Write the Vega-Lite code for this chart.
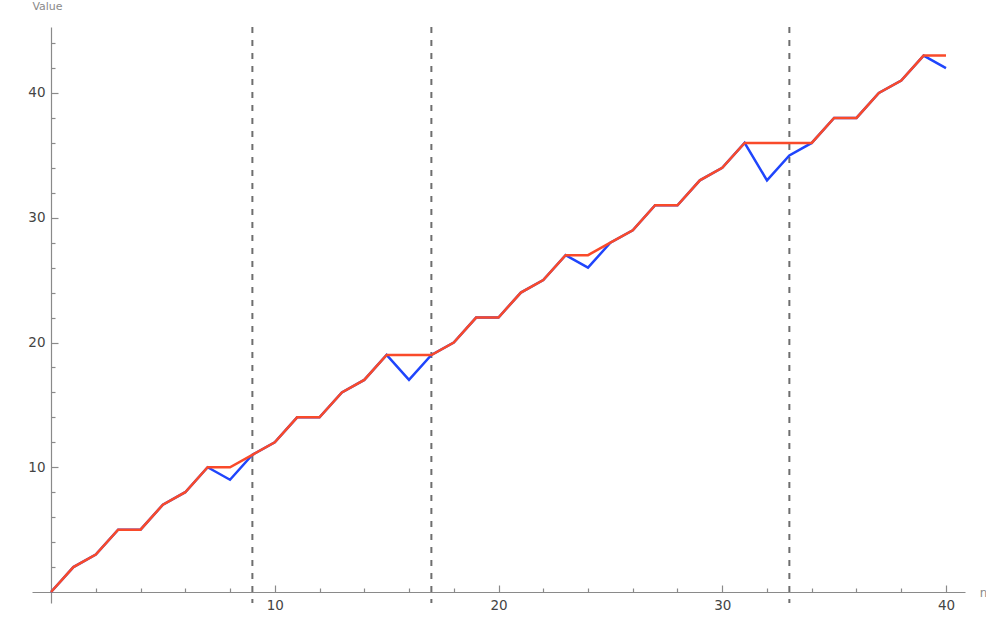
{
  "$schema": "https://vega.github.io/schema/vega-lite/v6.json",
  "autosize": {"type": "none"},
  "padding": {"left": 32, "top": 27, "right": 21, "bottom": 18},
  "width": 933,
  "height": 576,
  "background": "white",
  "config": {
    "view": {"stroke": null},
    "axis": {
      "grid": false,
      "domainColor": "#8a8a8a",
      "domainWidth": 1.2,
      "tickColor": "#8a8a8a",
      "tickWidth": 1.2,
      "labelOverlap": false,
      "labelFlush": false,
      "labelFont": "DejaVu Sans",
      "labelFontSize": 13.5,
      "labelColor": "#444444",
      "titleFont": "DejaVu Sans",
      "titleFontWeight": "normal",
      "titleColor": "#8a8a8a",
      "titleFontSize": 11
    }
  },
  "data": {
    "values": [
      {"n": 0, "seq": 0, "max": 0},
      {"n": 1, "seq": 2, "max": 2},
      {"n": 2, "seq": 3, "max": 3},
      {"n": 3, "seq": 5, "max": 5},
      {"n": 4, "seq": 5, "max": 5},
      {"n": 5, "seq": 7, "max": 7},
      {"n": 6, "seq": 8, "max": 8},
      {"n": 7, "seq": 10, "max": 10},
      {"n": 8, "seq": 9, "max": 10},
      {"n": 9, "seq": 11, "max": 11},
      {"n": 10, "seq": 12, "max": 12},
      {"n": 11, "seq": 14, "max": 14},
      {"n": 12, "seq": 14, "max": 14},
      {"n": 13, "seq": 16, "max": 16},
      {"n": 14, "seq": 17, "max": 17},
      {"n": 15, "seq": 19, "max": 19},
      {"n": 16, "seq": 17, "max": 19},
      {"n": 17, "seq": 19, "max": 19},
      {"n": 18, "seq": 20, "max": 20},
      {"n": 19, "seq": 22, "max": 22},
      {"n": 20, "seq": 22, "max": 22},
      {"n": 21, "seq": 24, "max": 24},
      {"n": 22, "seq": 25, "max": 25},
      {"n": 23, "seq": 27, "max": 27},
      {"n": 24, "seq": 26, "max": 27},
      {"n": 25, "seq": 28, "max": 28},
      {"n": 26, "seq": 29, "max": 29},
      {"n": 27, "seq": 31, "max": 31},
      {"n": 28, "seq": 31, "max": 31},
      {"n": 29, "seq": 33, "max": 33},
      {"n": 30, "seq": 34, "max": 34},
      {"n": 31, "seq": 36, "max": 36},
      {"n": 32, "seq": 33, "max": 36},
      {"n": 33, "seq": 35, "max": 36},
      {"n": 34, "seq": 36, "max": 36},
      {"n": 35, "seq": 38, "max": 38},
      {"n": 36, "seq": 38, "max": 38},
      {"n": 37, "seq": 40, "max": 40},
      {"n": 38, "seq": 41, "max": 41},
      {"n": 39, "seq": 43, "max": 43},
      {"n": 40, "seq": 42, "max": 43}
    ]
  },
  "layer": [
    {
      "data": {"values": [{"x": 9}, {"x": 17}, {"x": 33}]},
      "mark": {"type": "rule", "color": "#6e6e6e", "strokeWidth": 2, "strokeDash": [6, 7]},
      "encoding": {
        "x": {"field": "x", "type": "quantitative", "scale": {"domain": [-0.85, 40.85], "nice": false, "zero": false}}
      }
    },
    {
      "mark": {"type": "line", "color": "#1f45fc", "strokeWidth": 2.5, "strokeJoin": "miter"},
      "encoding": {
        "x": {
          "field": "n", "type": "quantitative",
          "scale": {"domain": [-0.85, 40.85], "nice": false, "zero": false},
          "axis": {
            "orient": "bottom",
            "offset": -11,
            "values": [2,4,6,8,10,12,14,16,18,20,22,24,26,28,30,32,34,36,38,40],
            "tickCount": 60,
            "format": "d",
            "labelExpr": "datum.value % 10 === 0 ? datum.label : ''",
            "tickSize": {"condition": {"test": "datum.value % 10 === 0", "value": -7}, "value": -4},
            "labelPadding": 13,
            "title": "n",
            "titleAngle": 0,
            "titleX": 951,
            "titleY": 0,
            "titleAlign": "center",
            "titleBaseline": "middle",
            "titleFontSize": 12
          }
        },
        "y": {
          "field": "seq", "type": "quantitative",
          "scale": {"domain": [-0.88, 45.29], "nice": false, "zero": false},
          "axis": {
            "orient": "left",
            "offset": -19,
            "values": [2,4,6,8,10,12,14,16,18,20,22,24,26,28,30,32,34,36,38,40,42,44],
            "tickCount": 60,
            "format": "d",
            "labelExpr": "datum.value % 10 === 0 ? datum.label : ''",
            "tickSize": {"condition": {"test": "datum.value % 10 === 0", "value": -7}, "value": -4},
            "labelPadding": 13,
            "title": "Value",
            "titleAngle": 0,
            "titleX": -4,
            "titleY": -21,
            "titleAlign": "center",
            "titleBaseline": "middle"
          }
        }
      }
    },
    {
      "mark": {"type": "line", "color": "#f94a2a", "strokeWidth": 2.5, "strokeJoin": "miter"},
      "encoding": {
        "x": {"field": "n", "type": "quantitative"},
        "y": {"field": "max", "type": "quantitative"}
      }
    }
  ]
}
